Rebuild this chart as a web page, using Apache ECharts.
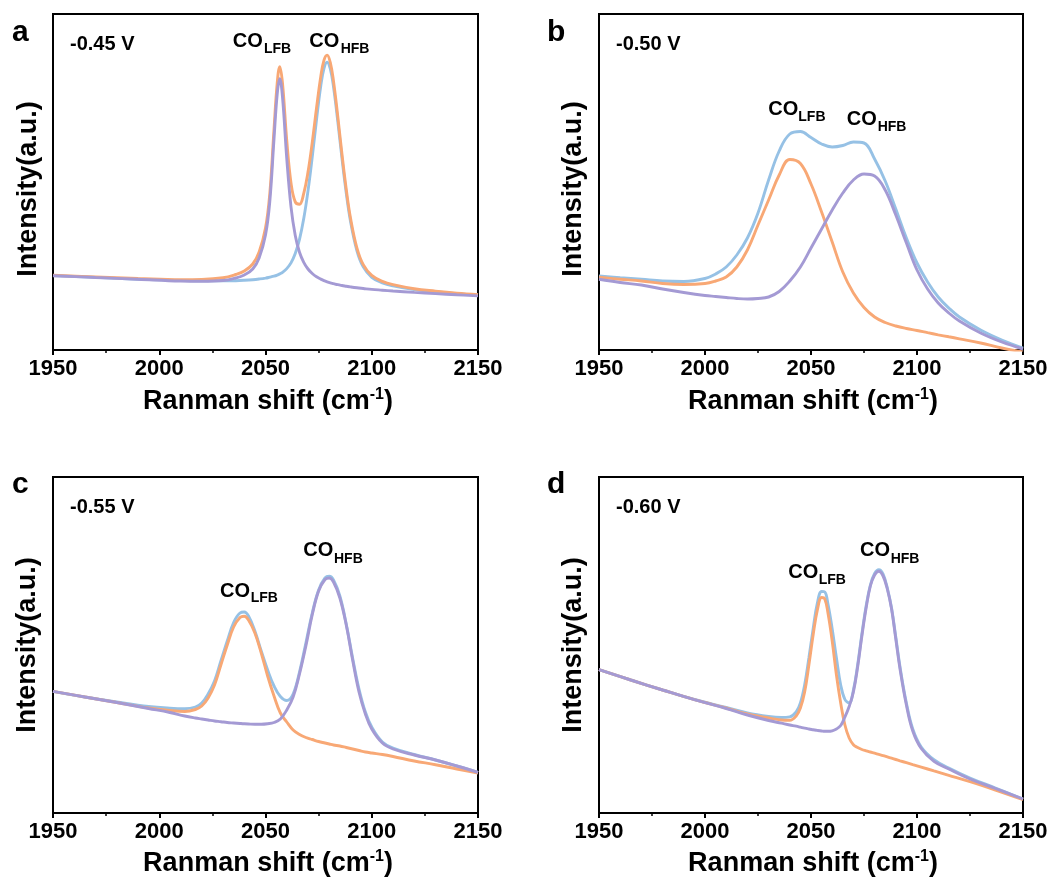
<!DOCTYPE html>
<html>
<head>
<meta charset="utf-8">
<script src="https://cdn.jsdelivr.net/npm/echarts@6/dist/echarts.min.js"></script>
<style>html,body{margin:0;padding:0;background:#fff}#chart{width:1061px;height:881px}</style>
</head>
<body>
<div id="chart"></div>
<script>
// ---------- data (intensity in arbitrary units) ----------
const xTickLabels = [1950, 2000, 2050, 2100, 2150];

// panel a : -0.45 V  (orange = sum, purple = LFB, blue = HFB)
const shiftA = [1950,1970,1990,2010,2020,2030,2036,2040,2044,2047,2050,2052,2054,2055.5,2056.7,2058,2060,2062,2064,2066,2068,2070,2072,2074,2076,2077.5,2079,2080.5,2082,2084,2086,2088,2090,2093,2096,2100,2105,2110,2120,2130,2140,2150];
const orangeA = [74.7,73.1,71.6,70.4,70.6,72.2,75.5,79,86,98,122,156,220.5,266.6,283.4,266.9,209.6,167.1,148.1,145.8,156.6,177.9,207.6,241.7,273.4,289.6,294.9,287.4,268.9,233.8,195.6,160.7,132.0,102.2,85.4,74.6,68.7,65.4,61.3,58.9,56.9,55.4];
const blueA = [74.4,72.6,70.8,69.5,69.1,69.1,69.3,69.7,70.3,71.0,71.9,72.8,73.8,74.9,76.1,77.7,81.4,87.1,96.5,110.7,131.4,159.1,193.1,230.2,264.0,281.5,287.8,281.1,263.3,229.0,191.4,157.0,128.8,99.5,83.1,72.7,67.1,64.1,60.4,58.2,56.4,55.0];
const purpleA = [74.3,72.5,70.8,69.0,68.8,69.5,72,75,81,92,115,148,210.9,255.7,271.2,252.9,191.7,143.2,114.6,97.8,87.7,81.0,76.5,73.2,70.9,69.4,68.2,67.2,66.4,65.3,64.5,63.8,63.1,62.2,61.5,60.6,59.8,59.0,57.6,56.4,55.2,54.1];

// panel b : -0.50 V  (blue = sum, orange = LFB, purple = HFB)
const shiftB = [1950,1960,1970,1980,1990,2000,2005,2010,2015,2020,2025,2030,2035,2040,2045,2050,2055,2060,2065,2070,2075,2080,2085,2090,2095,2100,2105,2110,2115,2120,2130,2140,2150];
const blueB = [74,72.3,70.7,69,68.5,71.5,76,83,95,112,137,170,199,216,218.5,212.5,206,203,204.5,208,207,191,169,141,112,87,68,53,42,33,20,10,2];
const orangeB = [72.7,70.8,69,66.5,65.5,66.5,69,73,83,100,125,150,175,190.5,186.5,166,138,108,78,57,42.5,33,27.5,24,21.5,19.5,17.3,15.2,13.2,11.2,7,2,-2];
const purpleB = [70.7,67.5,65,61,57.5,54.5,53.5,52.5,51.5,51,51.5,53,58.5,69,83,102,121,140,157,170,176,174,160,135,107,80,61,47,37,29,17,8,1];

// panel c : -0.55 V  (blue = sum, orange = LFB, purple = HFB)
const shiftC = [1950,1965,1980,1995,2005,2012,2017,2020,2023,2026,2029,2032,2035,2038,2040,2042,2045,2048,2051,2054,2057,2060,2063,2066,2069,2072,2075,2078,2080,2082,2085,2088,2091,2094,2097,2100,2105,2110,2120,2130,2140,2150];
const blueC = [121.6,116,111,106.5,104.8,104.3,106,110,119,132,152,172,190.5,200,201,197,182,162,143,127,116.5,112.5,119,141,170,200,223,235,236.7,233,217,189,155,124,101,86,71,65,58.5,53,47,40.6];
const orangeC = [121.6,116,110.5,105,102.5,101.5,103.5,107,115,128,148,168,186,195.5,196.7,193,180,160,137,117,100,91,83,78.5,75.5,73.5,71.5,70,69,68,67,65.5,64,62.5,61,60,58.5,56.5,52,48.3,44,40];
const purpleC = [121.6,116,110.5,104.5,100.5,97,95,94,93,92,91.3,90.5,90,89.5,89.2,89,88.8,88.8,89.3,90.5,94,103,116,139,167,198.3,222,233.5,235,231,215,188,153,121,99,84,70,64,58,53,47,40.6];

// panel d : -0.60 V  (blue = sum, orange = LFB, purple = HFB)
const shiftD = [1950,1965,1980,1995,2010,2020,2030,2036,2040,2043,2045,2047,2049,2051,2053,2055,2056.5,2058,2060,2062,2064,2066,2068,2070,2072,2074,2076,2078,2080,2082,2084,2086,2088,2090,2092,2095,2098,2102,2108,2115,2125,2137,2150];
const blueD = [143.3,133,123,113.5,105.5,100,96.5,95.5,96.2,101,110,128,155,184,210,221.5,221,209,184,155,128,113.5,110,123,148,179,207,228,239.5,243.3,239,225,205,176,146,110,84,66,53.3,45,35,25,14];
const orangeD = [143.3,133,123,113.3,105,99,95,93,92.7,97,105,121,148,178,203,215.5,214,200,172,138,110,88,75,68.3,65.5,63.5,62.2,61,59.8,58.6,57.4,56.1,54.8,53.5,52.2,50.3,48.4,45.9,42.1,37.7,31.3,22.9,13.3];
const purpleD = [143.3,133,123,113.3,104.5,98,92.5,89.8,88,86.8,85.8,84.8,84,83.3,82.6,82,81.7,81.7,82.2,84,87.5,96,106.5,121,146,177,205,227,238,241.7,237,224,204,174,144,108,82,64.5,51.7,44,34,24.5,14];

const panelLetters = ['a', 'b', 'c', 'd'];
const potentials = ['-0.45 V', '-0.50 V', '-0.55 V', '-0.60 V'];

// ---------- layout / style ----------
const FONT = '"Liberation Sans", Arial, Helvetica, sans-serif';
const COLORS = { blue: '#96C1E5', orange: '#F8A875', purple: '#A49AD4' };
const grids = [
  { left: 53, top: 14, width: 425, height: 336 },
  { left: 599, top: 14, width: 424, height: 336 },
  { left: 53, top: 477, width: 425, height: 336 },
  { left: 599, top: 477, width: 424, height: 336 }
];
const panels = [
  { x: shiftA, blue: blueA, orange: orangeA, purple: purpleA },
  { x: shiftB, blue: blueB, orange: orangeB, purple: purpleB },
  { x: shiftC, blue: blueC, orange: orangeC, purple: purpleC },
  { x: shiftD, blue: blueD, orange: orangeD, purple: purpleD }
];

const zip = (xs, ys) => xs.map((x, i) => [x, ys[i]]);

const xAxes = [], yAxes = [], series = [];
grids.forEach((g, i) => {
  xAxes.push({
    gridIndex: i, type: 'value', min: 1950, max: 2150, interval: 50,
    axisLine: { show: true, lineStyle: { color: '#000', width: 2 } },
    axisTick: { show: true, inside: false, length: 5, lineStyle: { color: '#000', width: 2 } },
    minorTick: { show: true, splitNumber: 2, length: 3, lineStyle: { color: '#000', width: 1.5 } },
    splitLine: { show: false },
    axisLabel: {
      show: true, margin: 8, color: '#000', fontSize: 22, fontWeight: 'bold', fontFamily: FONT,
      formatter: v => (xTickLabels.indexOf(v) >= 0 ? String(v) : '')
    }
  });
  yAxes.push({
    gridIndex: i, type: 'value', min: 0, max: 336,
    axisLine: { show: true, lineStyle: { color: '#000', width: 2 } },
    axisTick: { show: false }, axisLabel: { show: false }, splitLine: { show: false }
  });
  const p = panels[i];
  ['blue', 'orange', 'purple'].forEach((c, k) => {
    series.push({
      type: 'line', xAxisIndex: i, yAxisIndex: i,
      data: zip(p.x, p[c]), showSymbol: false, smooth: 0.4, clip: true,
      lineStyle: { color: COLORS[c], width: 2.9 }, z: 2 + k, animation: false
    });
  });
});

function txt(x, y, text, size, align, rot) {
  return {
    type: 'text', x: x, y: y, rotation: rot || 0, silent: true, z: 100,
    style: {
      text: text, font: 'bold ' + size + 'px ' + FONT, fill: '#000',
      textAlign: align || 'left', align: align || 'left',
      textVerticalAlign: 'middle', verticalAlign: 'middle'
    }
  };
}
function xTitle(cx, cy) {
  return {
    type: 'text', x: cx, y: cy, silent: true, z: 100,
    style: {
      text: '{m|Ranman shift (cm}{s|-1}{m|)}',
      textAlign: 'center', align: 'center', textVerticalAlign: 'middle', verticalAlign: 'middle',
      fill: '#000',
      rich: {
        m: { fontSize: 27, fontWeight: 'bold', fontFamily: FONT, fill: '#000', lineHeight: 31, verticalAlign: 'middle' },
        s: { fontSize: 16, fontWeight: 'bold', fontFamily: FONT, fill: '#000', lineHeight: 16, verticalAlign: 'top' }
      }
    }
  };
}

const graphics = [];
graphics.push(txt(12, 32.5, panelLetters[0], 30));
graphics.push(txt(547, 32.5, panelLetters[1], 30));
graphics.push(txt(12, 484.5, panelLetters[2], 30));
graphics.push(txt(547, 484.5, panelLetters[3], 30));
graphics.push(txt(70, 44, potentials[0], 20));
graphics.push(txt(616, 44, potentials[1], 20));
graphics.push(txt(70, 507, potentials[2], 20));
graphics.push(txt(616, 507, potentials[3], 20));
graphics.push(txt(29, 189, 'Intensity(a.u.)', 27, 'center', Math.PI / 2));
graphics.push(txt(574, 189, 'Intensity(a.u.)', 27, 'center', Math.PI / 2));
graphics.push(txt(28, 645, 'Intensity(a.u.)', 27, 'center', Math.PI / 2));
graphics.push(txt(574, 645, 'Intensity(a.u.)', 27, 'center', Math.PI / 2));
graphics.push(xTitle(268, 402));
graphics.push(xTitle(813, 402));
graphics.push(xTitle(268, 864));
graphics.push(xTitle(813, 864));
const coLabels = [
  [232.7, 41, 264, 48.7, 'LFB'], [309.3, 41.7, 340.7, 48.7, 'HFB'],
  [768.3, 109, 798.3, 117, 'LFB'], [846.7, 119.5, 877.7, 126.7, 'HFB'],
  [220, 591.3, 250.7, 598, 'LFB'], [303.3, 550.8, 334, 558.7, 'HFB'],
  [788.3, 572.5, 818.7, 580, 'LFB'], [860, 550.8, 890.7, 558.7, 'HFB']
];
coLabels.forEach(l => {
  graphics.push(txt(l[0], l[1], 'CO', 20));
  graphics.push(txt(l[2], l[3], l[4], 14));
});

const chart = echarts.init(document.getElementById('chart'), null, { renderer: 'canvas' });
chart.setOption({
  backgroundColor: '#fff',
  animation: false,
  grid: grids.map(g => Object.assign({ show: true, borderColor: '#000', borderWidth: 2, backgroundColor: 'transparent', containLabel: false }, g)),
  xAxis: xAxes,
  yAxis: yAxes,
  series: series,
  graphic: { elements: graphics }
});
</script>
</body>
</html>
